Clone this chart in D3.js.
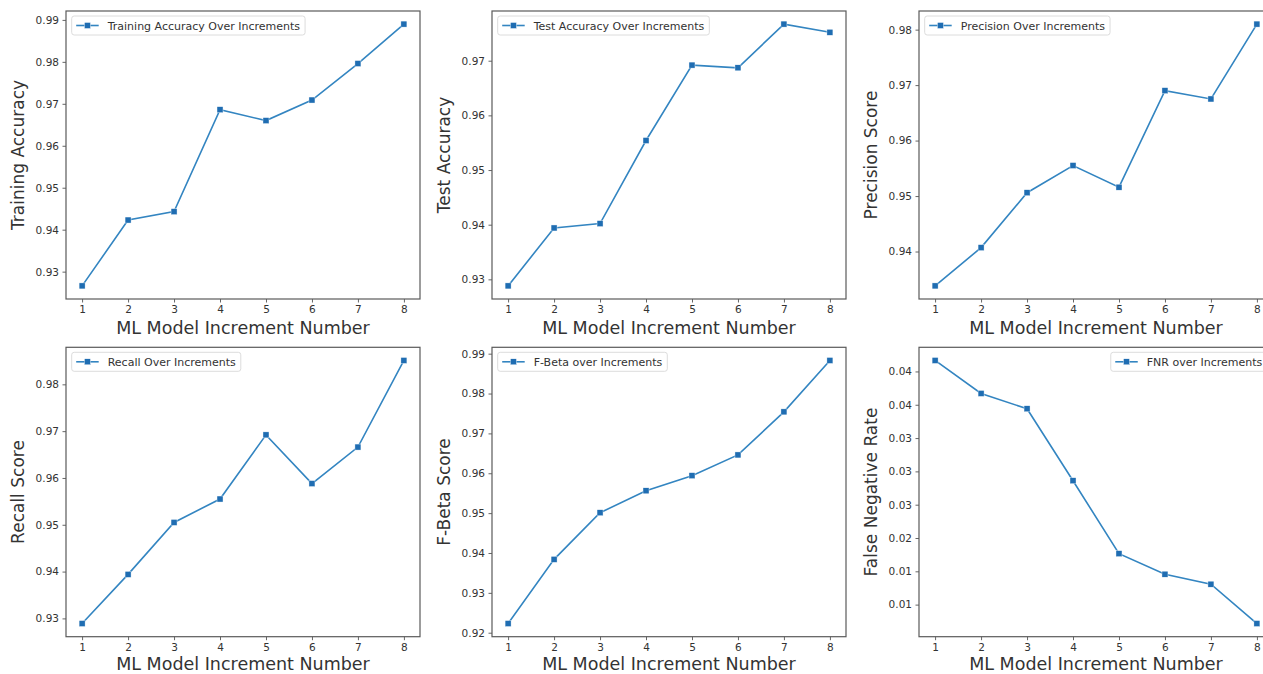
<!DOCTYPE html>
<html>
<head>
<meta charset="utf-8">
<script src="https://cdn.jsdelivr.net/npm/d3@7"></script>
<style>
  html, body { margin: 0; padding: 0; background: #fff; overflow: hidden; }
  text { font-family: "DejaVu Sans", sans-serif; fill: #333; }
</style>
</head>
<body>
<script>
// ---------------- data ----------------
const increments = [1, 2, 3, 4, 5, 6, 7, 8];

const trainingAccuracy = [0.9266, 0.9423, 0.9443, 0.9686, 0.9660, 0.9709, 0.9796, 0.9890];
const testAccuracy     = [0.9288, 0.9394, 0.9402, 0.9554, 0.9692, 0.9687, 0.9767, 0.9752];
const precisionScore   = [0.9338, 0.9407, 0.9506, 0.9555, 0.9516, 0.9690, 0.9675, 0.9810];
const recallScore      = [0.9289, 0.9394, 0.9505, 0.9555, 0.9692, 0.9588, 0.9666, 0.9851];
const fBetaScore       = [0.9223, 0.9384, 0.9501, 0.9556, 0.9594, 0.9646, 0.9754, 0.9883];
const fnrRate          = [0.04665, 0.0417, 0.0394, 0.0286, 0.01765, 0.01457, 0.01307, 0.00716];

const ticksTraining  = [0.93, 0.94, 0.95, 0.96, 0.97, 0.98, 0.99];
const ticksTest      = [0.93, 0.94, 0.95, 0.96, 0.97];
const ticksPrecision = [0.94, 0.95, 0.96, 0.97, 0.98];
const ticksRecall    = [0.93, 0.94, 0.95, 0.96, 0.97, 0.98];
const ticksFBeta     = [0.92, 0.93, 0.94, 0.95, 0.96, 0.97, 0.98, 0.99];
const ticksFnr       = [0.045, 0.040, 0.035, 0.030, 0.025, 0.020, 0.015, 0.010];
const tickLabelsFnr  = ["0.04", "0.04", "0.03", "0.03", "0.03", "0.02", "0.01", "0.01"];

const yLabels = ["Training Accuracy", "Test Accuracy", "Precision Score",
                 "Recall Score", "F-Beta Score", "False Negative Rate"];
const legendLabels = ["Training Accuracy Over Increments", "Test Accuracy Over Increments",
                      "Precision Over Increments", "Recall Over Increments",
                      "F-Beta over Increments", "FNR over Increments"];
const xLabel = "ML Model Increment Number";

// ---------------- layout ----------------
const W = 1263, H = 674;
const colLeft = [66, 492, 919];
const rowTop = [11, 347.3];
const panelW = 354, panelH = [288, 289.4];
const xLabelOffset = [35, 33];

const LINE = "#3385c1", MARK = "#1f6db2";

const panels = [
  { values: trainingAccuracy, ticks: ticksTraining,  labels: null, legendRight: false },
  { values: testAccuracy,     ticks: ticksTest,      labels: null, legendRight: false },
  { values: precisionScore,   ticks: ticksPrecision, labels: null, legendRight: false },
  { values: recallScore,      ticks: ticksRecall,    labels: null, legendRight: false },
  { values: fBetaScore,       ticks: ticksFBeta,     labels: null, legendRight: false },
  { values: fnrRate,          ticks: ticksFnr,       labels: tickLabelsFnr, legendRight: true }
];

const svg = d3.select("body").append("svg")
  .attr("width", W).attr("height", H);
svg.append("rect").attr("width", W).attr("height", H).attr("fill", "#fff");

panels.forEach((p, i) => {
  const col = i % 3, row = Math.floor(i / 3);
  const left = colLeft[col], top = rowTop[row], h = panelH[row];
  const right = left + panelW, bottom = top + h;

  const xMargin = (d3.max(increments) - d3.min(increments)) * 0.05;
  const x = d3.scaleLinear()
    .domain([d3.min(increments) - xMargin, d3.max(increments) + xMargin])
    .range([left, right]);
  const [mn, mx] = d3.extent(p.values);
  const m = (mx - mn) * 0.05;
  const y = d3.scaleLinear().domain([mn - m, mx + m]).range([bottom, top]);

  const g = svg.append("g");

  // axes
  const xa = g.append("g").attr("transform", `translate(0,${bottom})`)
    .call(d3.axisBottom(x).tickValues(increments).tickSize(3.5).tickPadding(3.5)
      .tickFormat(d3.format("d")));
  const ya = g.append("g").attr("transform", `translate(${left},0)`)
    .call(d3.axisLeft(y).tickValues(p.ticks).tickSize(3.5).tickPadding(3.5)
      .tickFormat((d, k) => p.labels ? p.labels[k] : d3.format(".2f")(d)));
  [xa, ya].forEach(a => {
    a.select(".domain").remove();
    a.selectAll(".tick line").attr("stroke", "#555").attr("stroke-width", 0.9);
    a.selectAll(".tick text").attr("font-size", 10.5).style("font-family", "DejaVu Sans").attr("fill", "#333");
  });

  // frame
  g.append("rect").attr("x", left).attr("y", top)
    .attr("width", panelW).attr("height", h)
    .attr("fill", "none").attr("stroke", "#5a5a5a").attr("stroke-width", 1.2);

  // line + markers
  const line = d3.line().x((d, k) => x(increments[k])).y(d => y(d));
  g.append("path").datum(p.values).attr("d", line)
    .attr("fill", "none").attr("stroke", LINE).attr("stroke-width", 1.6);
  g.selectAll("rect.mk").data(p.values).enter().append("rect")
    .attr("class", "mk")
    .attr("x", (d, k) => x(increments[k]) - 3).attr("y", d => y(d) - 3)
    .attr("width", 6).attr("height", 6)
    .attr("fill", MARK).attr("stroke", "#fff").attr("stroke-width", 0.4);

  // axis labels
  g.append("text").attr("x", (left + right) / 2).attr("y", bottom + xLabelOffset[row])
    .attr("text-anchor", "middle").attr("font-size", 17.5).text(xLabel);
  g.append("text")
    .attr("transform", `translate(${left - 42},${(top + bottom) / 2}) rotate(-90)`)
    .attr("text-anchor", "middle").attr("font-size", 17).text(yLabels[i]);

  // legend
  const lg = g.append("g");
  const lt = lg.append("text").attr("font-size", 11).text(legendLabels[i]);
  const tw = lt.node().getComputedTextLength();
  const boxW = tw + 36 + 5, boxH = 19;
  const bx = p.legendRight ? right - 5.7 - boxW : left + 5.7;
  const by = top + 5;
  lg.insert("rect", "text").attr("x", bx).attr("y", by).attr("width", boxW).attr("height", boxH)
    .attr("rx", 2.5).attr("fill", "#fff").attr("stroke", "#dcdcdc").attr("stroke-width", 1);
  lt.attr("x", bx + 36).attr("y", by + 13.5);
  lg.append("line").attr("x1", bx + 4.5).attr("x2", bx + 27).attr("y1", by + 9.5).attr("y2", by + 9.5)
    .attr("stroke", LINE).attr("stroke-width", 1.6);
  lg.append("rect").attr("x", bx + 15.75 - 3).attr("y", by + 9.5 - 3).attr("width", 6).attr("height", 6)
    .attr("fill", MARK).attr("stroke", "#fff").attr("stroke-width", 0.4);
});
</script>
</body>
</html>
